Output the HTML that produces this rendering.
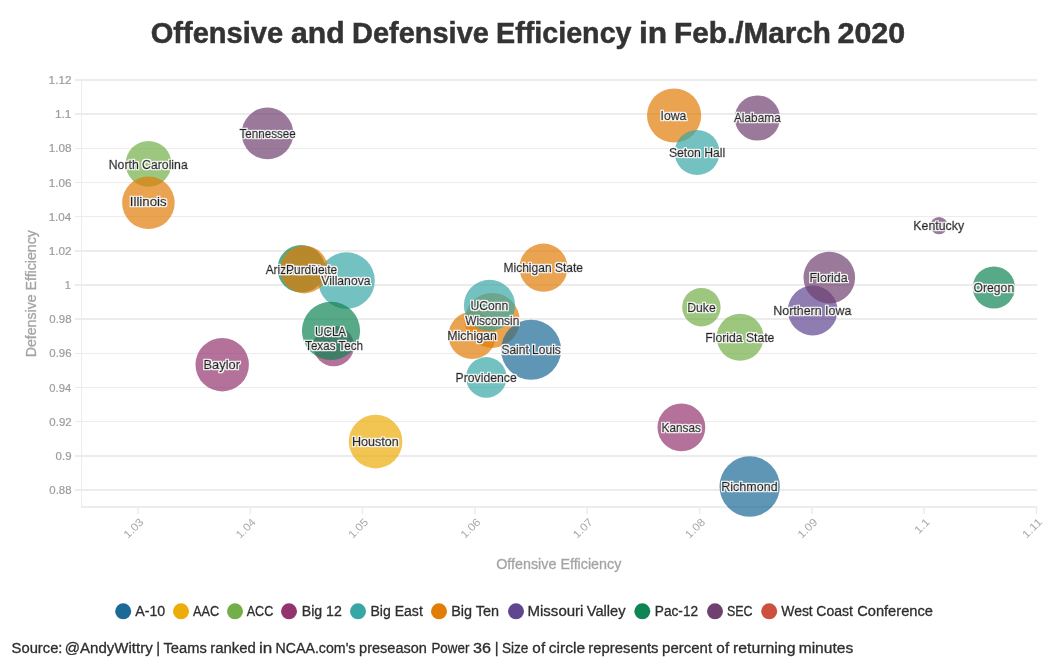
<!DOCTYPE html>
<html lang="en"><head><meta charset="utf-8"><title>Offensive and Defensive Efficiency in Feb./March 2020</title>
<style>
html,body{margin:0;padding:0;background:#fff;}
body{width:1056px;height:670px;overflow:hidden;font-family:"Liberation Sans",sans-serif;}
svg{display:block;font-family:"Liberation Sans",sans-serif;}
.ytick text,.xtick text{font-size:10.9px;fill:#9c9c9c;stroke:#9c9c9c;stroke-width:0.2px;}
.xtick text{fill:#a8a8a8;stroke:none;}
.axt{font-size:14.6px;fill:#a4a4a4;stroke:#a4a4a4;stroke-width:0.3px;}
.dots circle{fill-opacity:0.7;}
.lab text{font-size:11.9px;fill:#222;stroke:#222;stroke-width:0.5px;filter:url(#halo);}
.leg text{font-size:14.9px;fill:#2e2e2e;stroke:#2e2e2e;stroke-width:0.3px;}
.title text{font-size:28.8px;font-weight:bold;fill:#333;stroke:#333;stroke-width:0.5px;}
.foot text{font-size:14.7px;fill:#2e2e2e;stroke:#2e2e2e;stroke-width:0.3px;}
</style></head><body>
<svg width="1056" height="670" viewBox="0 0 1056 670">
<rect width="1056" height="670" fill="#fff"/>
<defs><filter id="halo" x="-10%" y="-30%" width="120%" height="160%"><feMorphology in="SourceAlpha" operator="dilate" radius="1" result="d"/><feGaussianBlur in="d" stdDeviation="0.3" result="b"/><feFlood flood-color="#fff" result="w"/><feComposite in="w" in2="b" operator="in" result="o"/><feMerge><feMergeNode in="o"/><feMergeNode in="SourceGraphic"/></feMerge></filter></defs>
<g class="title">
<text y="42.5"><tspan x="150.71" textLength="132.33" lengthAdjust="spacingAndGlyphs">Offensive</tspan> <tspan x="290.98" textLength="53.62" lengthAdjust="spacingAndGlyphs">and</tspan> <tspan x="352.11" textLength="136.76" lengthAdjust="spacingAndGlyphs">Defensive</tspan> <tspan x="496.02" textLength="135.53" lengthAdjust="spacingAndGlyphs">Efficiency</tspan> <tspan x="638.96" textLength="28.19" lengthAdjust="spacingAndGlyphs">in</tspan> <tspan x="674.10" textLength="156.93" lengthAdjust="spacingAndGlyphs">Feb./March</tspan> <tspan x="837.49" textLength="67.75" lengthAdjust="spacingAndGlyphs">2020</tspan></text>
</g>
<g fill="#ececec">
<rect x="75" y="79" width="962" height="2"/>
<rect x="75" y="113" width="962" height="2"/>
<rect x="75" y="148" width="962" height="1"/>
<rect x="75" y="182" width="962" height="1"/>
<rect x="75" y="216" width="962" height="1"/>
<rect x="75" y="250" width="962" height="2"/>
<rect x="75" y="284" width="962" height="2"/>
<rect x="75" y="318" width="962" height="2"/>
<rect x="75" y="353" width="962" height="1"/>
<rect x="75" y="387" width="962" height="1"/>
<rect x="75" y="421" width="962" height="1"/>
<rect x="75" y="455" width="962" height="2"/>
<rect x="75" y="489" width="962" height="2"/>
<rect x="81" y="79" width="1" height="429"/>
<rect x="81" y="506" width="956" height="2"/>
</g>
<g stroke="#ececec" stroke-width="1.5">
<line x1="138.00" x2="138.00" y1="508" y2="514"/>
<line x1="250.31" x2="250.31" y1="508" y2="514"/>
<line x1="362.63" x2="362.63" y1="508" y2="514"/>
<line x1="474.94" x2="474.94" y1="508" y2="514"/>
<line x1="587.25" x2="587.25" y1="508" y2="514"/>
<line x1="699.56" x2="699.56" y1="508" y2="514"/>
<line x1="811.88" x2="811.88" y1="508" y2="514"/>
<line x1="924.19" x2="924.19" y1="508" y2="514"/>
<line x1="1036.50" x2="1036.50" y1="508" y2="514"/>
</g>
<g class="ytick">
<text x="48.64" y="84.00" textLength="22.99" lengthAdjust="spacingAndGlyphs">1.12</text>
<text x="54.96" y="118.17" textLength="16.51" lengthAdjust="spacingAndGlyphs">1.1</text>
<text x="48.67" y="152.33" textLength="22.83" lengthAdjust="spacingAndGlyphs">1.08</text>
<text x="48.67" y="186.50" textLength="22.82" lengthAdjust="spacingAndGlyphs">1.06</text>
<text x="48.65" y="220.67" textLength="22.65" lengthAdjust="spacingAndGlyphs">1.04</text>
<text x="48.65" y="254.83" textLength="22.97" lengthAdjust="spacingAndGlyphs">1.02</text>
<text x="70.8" y="289.00" text-anchor="end">1</text>
<text x="49.33" y="323.17" textLength="22.22" lengthAdjust="spacingAndGlyphs">0.98</text>
<text x="49.33" y="357.33" textLength="22.21" lengthAdjust="spacingAndGlyphs">0.96</text>
<text x="49.34" y="391.50" textLength="21.80" lengthAdjust="spacingAndGlyphs">0.94</text>
<text x="49.33" y="425.67" textLength="22.33" lengthAdjust="spacingAndGlyphs">0.92</text>
<text x="55.60" y="459.83" textLength="15.96" lengthAdjust="spacingAndGlyphs">0.9</text>
<text x="49.33" y="494.00" textLength="22.22" lengthAdjust="spacingAndGlyphs">0.88</text>
</g>
<g class="xtick">
<text transform="translate(143.90,523.10) rotate(-45)" x="-22.45" y="0" textLength="22.87" lengthAdjust="spacingAndGlyphs">1.03</text>
<text transform="translate(256.21,523.10) rotate(-45)" x="-22.45" y="0" textLength="22.65" lengthAdjust="spacingAndGlyphs">1.04</text>
<text transform="translate(368.53,523.10) rotate(-45)" x="-22.43" y="0" textLength="22.80" lengthAdjust="spacingAndGlyphs">1.05</text>
<text transform="translate(480.84,523.10) rotate(-45)" x="-22.43" y="0" textLength="22.82" lengthAdjust="spacingAndGlyphs">1.06</text>
<text transform="translate(593.15,523.10) rotate(-45)" x="-22.44" y="0" textLength="22.90" lengthAdjust="spacingAndGlyphs">1.07</text>
<text transform="translate(705.46,523.10) rotate(-45)" x="-22.43" y="0" textLength="22.83" lengthAdjust="spacingAndGlyphs">1.08</text>
<text transform="translate(817.78,523.10) rotate(-45)" x="-22.43" y="0" textLength="22.86" lengthAdjust="spacingAndGlyphs">1.09</text>
<text transform="translate(930.09,523.10) rotate(-45)" x="-16.14" y="0" textLength="16.51" lengthAdjust="spacingAndGlyphs">1.1</text>
<text transform="translate(1042.40,523.10) rotate(-45)" x="-22.46" y="0" textLength="22.94" lengthAdjust="spacingAndGlyphs">1.11</text>
</g>
<text class="axt" x="496.24" y="568.80" textLength="125.10" lengthAdjust="spacingAndGlyphs">Offensive Efficiency</text>
<text class="axt" x="-357.30" y="0.00" textLength="127.11" lengthAdjust="spacingAndGlyphs" transform="translate(35.8,0) rotate(-90)">Defensive Efficiency</text>
<g class="dots">
<circle cx="333.7" cy="346.0" r="20.3" fill="#94346E"/>
<circle cx="301.2" cy="268.8" r="23.8" fill="#0F8554"/>
<circle cx="472.1" cy="335.4" r="23.7" fill="#E17C05"/>
<circle cx="492.2" cy="320.4" r="27.5" fill="#E17C05"/>
<circle cx="812.7" cy="310.5" r="24.9" fill="#5F4690"/>
<circle cx="267.5" cy="133.4" r="25.8" fill="#6F4070"/>
<circle cx="148.5" cy="163.8" r="22.9" fill="#73AF48"/>
<circle cx="148.4" cy="202.8" r="26.3" fill="#E17C05"/>
<circle cx="346.5" cy="280.6" r="28.3" fill="#38A6A5"/>
<circle cx="304.2" cy="269.6" r="23.8" fill="#E17C05"/>
<circle cx="331.0" cy="330.8" r="29.1" fill="#0F8554"/>
<circle cx="222.2" cy="364.7" r="26.7" fill="#94346E"/>
<circle cx="375.6" cy="441.6" r="26.8" fill="#EDAD08"/>
<circle cx="543.5" cy="267.7" r="24.1" fill="#E17C05"/>
<circle cx="489.5" cy="305.4" r="25.6" fill="#38A6A5"/>
<circle cx="531.1" cy="349.7" r="30.0" fill="#1D6996"/>
<circle cx="486.3" cy="377.4" r="20.3" fill="#38A6A5"/>
<circle cx="674.1" cy="115.5" r="27.1" fill="#E17C05"/>
<circle cx="697.1" cy="152.5" r="22.5" fill="#38A6A5"/>
<circle cx="757.4" cy="118.0" r="22.6" fill="#6F4070"/>
<circle cx="701.4" cy="307.2" r="19.2" fill="#73AF48"/>
<circle cx="740.1" cy="337.3" r="23.5" fill="#73AF48"/>
<circle cx="829.3" cy="277.6" r="25.8" fill="#6F4070"/>
<circle cx="939.0" cy="225.6" r="8.7" fill="#6F4070"/>
<circle cx="993.9" cy="287.5" r="21.1" fill="#0F8554"/>
<circle cx="681.4" cy="427.3" r="23.9" fill="#94346E"/>
<circle cx="749.7" cy="486.5" r="30.2" fill="#1D6996"/>
</g>
<g class="lab">
<text x="305.10" y="349.80" textLength="57.93" lengthAdjust="spacingAndGlyphs">Texas Tech</text>
<text x="265.67" y="274.20" textLength="71.42" lengthAdjust="spacingAndGlyphs">Arizona State</text>
<text x="447.22" y="340.40" textLength="49.64" lengthAdjust="spacingAndGlyphs">Michigan</text>
<text x="465.24" y="325.10" textLength="54.01" lengthAdjust="spacingAndGlyphs">Wisconsin</text>
<text x="773.30" y="314.70" textLength="78.03" lengthAdjust="spacingAndGlyphs">Northern Iowa</text>
<text x="239.55" y="137.90" textLength="56.12" lengthAdjust="spacingAndGlyphs">Tennessee</text>
<text x="108.78" y="168.60" textLength="78.94" lengthAdjust="spacingAndGlyphs">North Carolina</text>
<text x="129.78" y="206.40" textLength="36.89" lengthAdjust="spacingAndGlyphs">Illinois</text>
<text x="321.34" y="284.80" textLength="49.20" lengthAdjust="spacingAndGlyphs">Villanova</text>
<text x="286.01" y="273.90" textLength="38.57" lengthAdjust="spacingAndGlyphs">Purdue</text>
<text x="315.07" y="335.50" textLength="31.06" lengthAdjust="spacingAndGlyphs">UCLA</text>
<text x="203.48" y="369.30" textLength="36.49" lengthAdjust="spacingAndGlyphs">Baylor</text>
<text x="352.01" y="445.90" textLength="46.83" lengthAdjust="spacingAndGlyphs">Houston</text>
<text x="503.55" y="271.70" textLength="79.35" lengthAdjust="spacingAndGlyphs">Michigan State</text>
<text x="470.48" y="309.90" textLength="37.74" lengthAdjust="spacingAndGlyphs">UConn</text>
<text x="501.41" y="353.90" textLength="59.40" lengthAdjust="spacingAndGlyphs">Saint Louis</text>
<text x="455.63" y="381.60" textLength="61.08" lengthAdjust="spacingAndGlyphs">Providence</text>
<text x="660.55" y="119.80" textLength="25.90" lengthAdjust="spacingAndGlyphs">Iowa</text>
<text x="668.91" y="156.80" textLength="56.41" lengthAdjust="spacingAndGlyphs">Seton Hall</text>
<text x="733.97" y="121.70" textLength="46.76" lengthAdjust="spacingAndGlyphs">Alabama</text>
<text x="687.24" y="311.90" textLength="28.43" lengthAdjust="spacingAndGlyphs">Duke</text>
<text x="705.23" y="341.80" textLength="69.14" lengthAdjust="spacingAndGlyphs">Florida State</text>
<text x="809.46" y="281.80" textLength="38.39" lengthAdjust="spacingAndGlyphs">Florida</text>
<text x="913.33" y="229.90" textLength="50.77" lengthAdjust="spacingAndGlyphs">Kentucky</text>
<text x="973.61" y="291.70" textLength="40.54" lengthAdjust="spacingAndGlyphs">Oregon</text>
<text x="661.57" y="432.00" textLength="39.43" lengthAdjust="spacingAndGlyphs">Kansas</text>
<text x="721.25" y="490.70" textLength="56.35" lengthAdjust="spacingAndGlyphs">Richmond</text>
</g>
<g class="leg">
<circle cx="123.2" cy="611.3" r="8" fill="#1D6996"/>
<circle cx="181.0" cy="611.3" r="8" fill="#EDAD08"/>
<circle cx="235.0" cy="611.3" r="8" fill="#73AF48"/>
<circle cx="289.0" cy="611.3" r="8" fill="#94346E"/>
<circle cx="358.0" cy="611.3" r="8" fill="#38A6A5"/>
<circle cx="439.0" cy="611.3" r="8" fill="#E17C05"/>
<circle cx="516.0" cy="611.3" r="8" fill="#5F4690"/>
<circle cx="642.3" cy="611.3" r="8" fill="#0F8554"/>
<circle cx="715.0" cy="611.3" r="8" fill="#6F4070"/>
<circle cx="769.2" cy="611.3" r="8" fill="#CC503E"/>
<text x="135.26" y="616.10" textLength="29.96" lengthAdjust="spacingAndGlyphs">A-10</text>
<text x="192.98" y="616.10" textLength="26.25" lengthAdjust="spacingAndGlyphs">AAC</text>
<text x="246.66" y="616.10" textLength="26.59" lengthAdjust="spacingAndGlyphs">ACC</text>
<text x="301.74" y="616.10" textLength="40.11" lengthAdjust="spacingAndGlyphs">Big 12</text>
<text x="370.48" y="616.10" textLength="52.33" lengthAdjust="spacingAndGlyphs">Big East</text>
<text x="451.23" y="616.10" textLength="47.85" lengthAdjust="spacingAndGlyphs">Big Ten</text>
<text y="616.1"><tspan x="527.50" textLength="55.95" lengthAdjust="spacingAndGlyphs">Missouri</tspan> <tspan x="586.79" textLength="38.81" lengthAdjust="spacingAndGlyphs">Valley</tspan></text>
<text x="654.79" y="616.10" textLength="43.37" lengthAdjust="spacingAndGlyphs">Pac-12</text>
<text x="726.88" y="616.10" textLength="25.70" lengthAdjust="spacingAndGlyphs">SEC</text>
<text y="616.1"><tspan x="781.34" textLength="31.40" lengthAdjust="spacingAndGlyphs">West</tspan> <tspan x="816.28" textLength="36.59" lengthAdjust="spacingAndGlyphs">Coast</tspan> <tspan x="857.14" textLength="75.84" lengthAdjust="spacingAndGlyphs">Conference</tspan></text>
</g>
<g class="foot">
<text y="653.1"><tspan x="11.61" textLength="50.87" lengthAdjust="spacingAndGlyphs">Source:</tspan> <tspan x="64.77" textLength="87.90" lengthAdjust="spacingAndGlyphs">@AndyWittry</tspan> <tspan x="156.2">|</tspan> <tspan x="163.50" textLength="43.25" lengthAdjust="spacingAndGlyphs">Teams</tspan> <tspan x="210.28" textLength="45.60" lengthAdjust="spacingAndGlyphs">ranked</tspan> <tspan x="258.99" textLength="13.26" lengthAdjust="spacingAndGlyphs">in</tspan> <tspan x="275.58" textLength="79.86" lengthAdjust="spacingAndGlyphs">NCAA.com's</tspan> <tspan x="359.08" textLength="67.79" lengthAdjust="spacingAndGlyphs">preseason</tspan> <tspan x="431.42" textLength="37.98" lengthAdjust="spacingAndGlyphs">Power</tspan> <tspan x="473.04" textLength="18.06" lengthAdjust="spacingAndGlyphs">36</tspan> <tspan x="494.7">|</tspan> <tspan x="501.94" textLength="26.52" lengthAdjust="spacingAndGlyphs">Size</tspan> <tspan x="532.39" textLength="12.76" lengthAdjust="spacingAndGlyphs">of</tspan> <tspan x="548.84" textLength="36.38" lengthAdjust="spacingAndGlyphs">circle</tspan> <tspan x="588.28" textLength="70.21" lengthAdjust="spacingAndGlyphs">represents</tspan> <tspan x="662.05" textLength="50.01" lengthAdjust="spacingAndGlyphs">percent</tspan> <tspan x="716.39" textLength="12.76" lengthAdjust="spacingAndGlyphs">of</tspan> <tspan x="732.95" textLength="62.54" lengthAdjust="spacingAndGlyphs">returning</tspan> <tspan x="798.69" textLength="54.51" lengthAdjust="spacingAndGlyphs">minutes</tspan></text>
</g>
</svg>
</body></html>
